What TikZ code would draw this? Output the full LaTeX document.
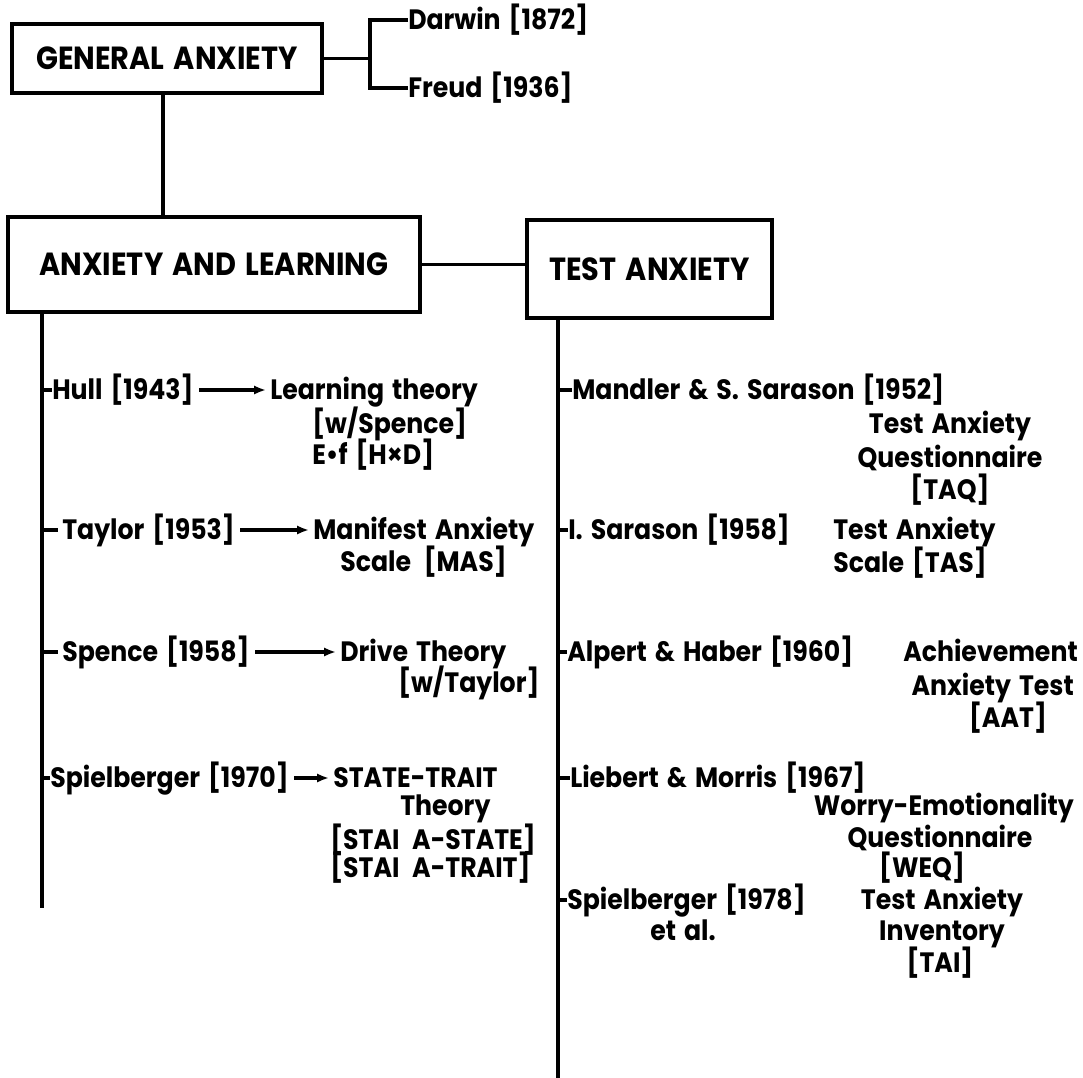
\documentclass[tikz,border=0pt]{standalone}
\usepackage{fontspec}
\setmainfont{Poppins}[WordSpace=1.5, FakeStretch=0.9]
\usetikzlibrary{arrows.meta}
\begin{document}
\begin{tikzpicture}[x=0.75pt,y=-0.75pt,
  lbl/.style={font=\bfseries\fontsize{21}{24}\selectfont, inner sep=0pt, anchor=west, text height=16pt, text depth=2pt},
  boxn/.style={draw, line width=3pt, font=\bfseries\fontsize{24}{28}\selectfont, inner sep=2pt, align=center},
  ln/.style={line width=2.4pt},
  arr/.style={line width=2.4pt, -{Latex[length=9pt,width=7pt]}, shorten <=4pt, shorten >=3pt}]
\useasboundingbox (0,0) rectangle (1083,1078);
\fill[white] (0,0) rectangle (1083,1078);

% top
\node[boxn, minimum width=232.5pt, minimum height=51.75pt] (ga) at (167,58.5) {GENERAL ANXIETY};
\node[lbl] (darwin) at (408,20) {Darwin [1872]};
\node[lbl] (freud) at (408,88) {Freud [1936]};
\coordinate (br) at (370,58.5);
\draw[ln] (ga.east) -- (br);
\draw[ln] (darwin.west) -- (darwin.west -| br) -- (freud.west -| br) -- (freud.west);

\node[boxn, minimum width=309pt, minimum height=71.25pt] (al) at (214,264.5) {ANXIETY AND LEARNING};
\node[boxn, minimum width=183.75pt, minimum height=73.5pt] (ta) at (649.5,269) {TEST ANXIETY};
\draw[ln] (ga.south -| 163,0) -- (al.north -| 163,0);
\draw[ln] (al.east) -- (al.east -| ta.west);

\coordinate (lvb) at (42,908);
\coordinate (rvb) at (558,1078);
\draw[ln] (al.south -| lvb) -- (lvb);
\draw[ln] (ta.south -| rvb) -- (rvb);

% left column
\node[lbl] (hull) at (52,390) {Hull [1943]};
\node[lbl] (learn) at (270,390) {Learning theory};
\node[lbl] (wsp) at (312,424) {[w/Spence]};
\node[lbl] (ef) at (312,455) {E•f [H×D]};
\draw[ln] (hull.west -| lvb) -- (hull.west);
\draw[arr] (hull.east) -- (learn.west);

\node[lbl] (taylor) at (62,530) {Taylor [1953]};
\node[lbl] (manif) at (313,530) {Manifest Anxiety};
\node[lbl] (mas) at (340,562) {Scale\, [MAS]};
\draw[ln] (taylor.west -| lvb) -- ([xshift=-3pt]taylor.west);
\draw[arr] (taylor.east) -- (manif.west);

\node[lbl] (spence) at (62,652) {Spence [1958]};
\node[lbl] (drive) at (340,652) {Drive Theory};
\node[lbl] (wtay) at (398,683) {[w/Taylor]};
\draw[ln] (spence.west -| lvb) -- ([xshift=-3pt]spence.west);
\draw[arr] (spence.east) -- (drive.west);

\node[lbl] (spiel) at (50,778) {Spielberger [1970]};
\node[lbl] (st) at (333,778) {STATE-TRAIT};
\node[lbl] (theory) at (400,806) {Theory};
\node[lbl] (stais) at (330,840) {[STAI\, A-STATE]};
\node[lbl] (stait) at (330,868) {[STAI\, A-TRAIT]};
\draw[ln] (spiel.west -| lvb) -- (spiel.west);
\draw[arr] (spiel.east) -- (st.west);

% right column
\node[lbl] (mand) at (572,390) {Mandler \& S. Sarason [1952]};
\node[lbl, anchor=center] (taq1) at (950,424) {Test Anxiety};
\node[lbl, anchor=center] (taq2) at (950,458) {Questionnaire};
\node[lbl, anchor=center] (taq3) at (950,490) {[TAQ]};
\draw[ln] (mand.west -| rvb) -- (mand.west);

\node[lbl] (isar) at (568,530) {I. Sarason [1958]};
\node[lbl] (tas1) at (833,530) {Test Anxiety};
\node[lbl] (tas2) at (833,563) {Scale [TAS]};
\draw[ln] (isar.west -| rvb) -- (isar.west);

\node[lbl] (alp) at (567,652) {Alpert \& Haber [1960]};
\node[lbl, anchor=east] (aat1) at (1078,652) {Achievement};
\node[lbl, anchor=east] (aat2) at (1074,686) {Anxiety Test};
\node[lbl, anchor=center] (aat3) at (1008,718) {[AAT]};
\draw[ln] (alp.west -| rvb) -- (alp.west);

\node[lbl] (lieb) at (570,778) {Liebert \& Morris [1967]};
\node[lbl, anchor=east] (weq1) at (1074,806) {Worry-Emotionality};
\node[lbl, anchor=center] (weq2) at (940,838) {Questionnaire};
\node[lbl, anchor=center] (weq3) at (922,868) {[WEQ]};
\draw[ln] (lieb.west -| rvb) -- (lieb.west);

\node[lbl] (sp78) at (567,900) {Spielberger [1978]};
\node[lbl, anchor=center] (etal) at (683,931) {et al.};
\node[lbl, anchor=center] (tai1) at (942,900) {Test Anxiety};
\node[lbl, anchor=center] (tai2) at (942,931) {Inventory};
\node[lbl, anchor=center] (tai3) at (940,963) {[TAI]};
\draw[ln] (sp78.west -| rvb) -- (sp78.west);
\end{tikzpicture}
\end{document}
